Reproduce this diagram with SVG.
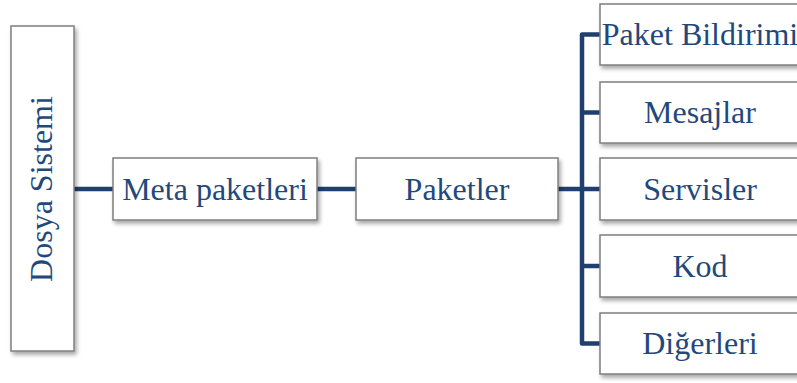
<svg xmlns="http://www.w3.org/2000/svg" width="797" height="383" viewBox="0 0 797 383">
  <defs>
    <filter id="sh" x="-10%" y="-10%" width="130%" height="140%">
      <feDropShadow dx="2" dy="3" stdDeviation="2" flood-color="#000" flood-opacity="0.35"/>
    </filter>
  </defs>
  <style>
    .box { fill: #ffffff; stroke: #7f7f7f; stroke-width: 1.5; filter: url(#sh); }
    .lbl { font-family: "Liberation Serif", "Times New Roman", serif; font-size: 32px; fill: #1f497d; text-anchor: middle; }
    .con { fill: none; stroke: #1f3f6f; stroke-width: 4.5; stroke-linejoin: round; }
  </style>
  <rect width="797" height="383" fill="#ffffff"/>
  <g id="connectors">
    <path class="con" d="M74 189 H113"/>
    <path class="con" d="M317 189 H356"/>
    <path class="con" d="M558 189 H582"/>
    <path class="con" d="M600 34.5 H582 V343.5 H600"/>
    <path class="con" d="M582 112.5 H600"/>
    <path class="con" d="M582 189 H600"/>
    <path class="con" d="M582 266 H600"/>
  </g>
  <g id="dosya">
    <rect class="box" x="11" y="26" width="63" height="325"/>
    <text class="lbl" transform="translate(52,189) rotate(-90)">Dosya Sistemi</text>
  </g>
  <g id="meta">
    <rect class="box" x="113" y="158" width="204" height="62"/>
    <text class="lbl" x="215" y="200">Meta paketleri</text>
  </g>
  <g id="paketler">
    <rect class="box" x="356" y="158" width="202" height="62"/>
    <text class="lbl" x="457" y="200">Paketler</text>
  </g>
  <g id="bildirimi">
    <rect class="box" x="600" y="4" width="200" height="61"/>
    <text class="lbl" x="700" y="45">Paket Bildirimi</text>
  </g>
  <g id="mesajlar">
    <rect class="box" x="600" y="82" width="200" height="61"/>
    <text class="lbl" x="700" y="123">Mesajlar</text>
  </g>
  <g id="servisler">
    <rect class="box" x="600" y="158" width="200" height="62"/>
    <text class="lbl" x="700" y="200">Servisler</text>
  </g>
  <g id="kod">
    <rect class="box" x="600" y="235" width="200" height="62"/>
    <text class="lbl" x="700" y="277">Kod</text>
  </g>
  <g id="digerleri">
    <rect class="box" x="600" y="313" width="200" height="61"/>
    <text class="lbl" x="700" y="354">Diğerleri</text>
  </g>
</svg>
